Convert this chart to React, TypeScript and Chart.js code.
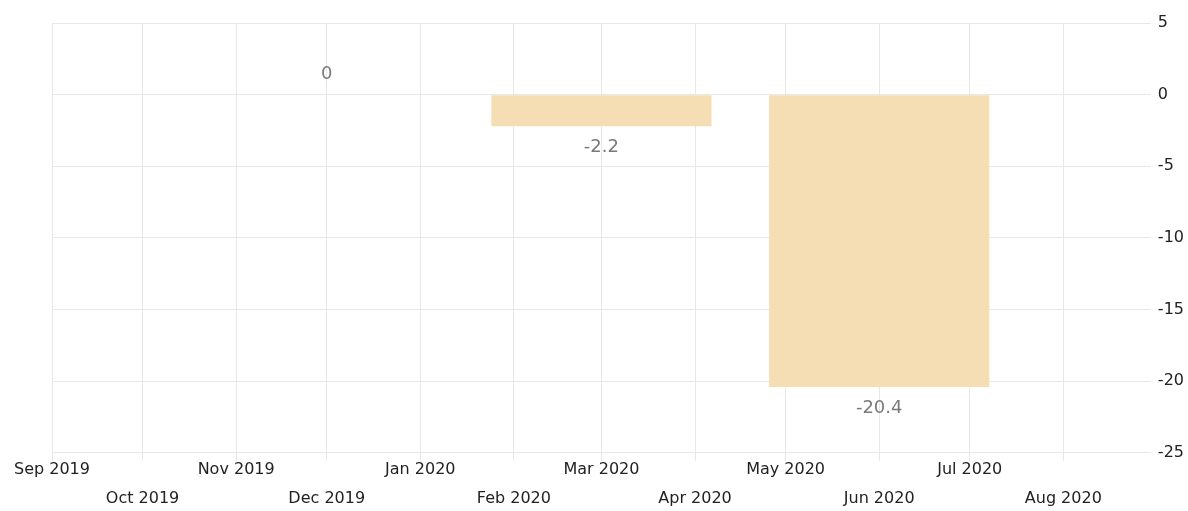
import React, { useEffect, useRef } from "react";
import { Chart, registerables } from "chart.js";

Chart.register(...registerables);

const tickLabels = [
  "Sep 2019", "Oct 2019", "Nov 2019", "Dec 2019", "Jan 2020", "Feb 2020",
  "Mar 2020", "Apr 2020", "May 2020", "Jun 2020", "Jul 2020", "Aug 2020",
];
const barMonths = ["Dec 2019", "Mar 2020", "Jun 2020"];
const barValues = [0, -2.2, -20.4];
const yTicks = [5, 0, -5, -10, -15, -20, -25];
const axisEnd = "Aug 30 2020";

const FONT = "'DejaVu Sans', sans-serif";

const DAY = 86400000;
const origin = Date.parse("1 " + tickLabels[0] + " UTC");
const dayOf = (label: string) =>
  Math.round((Date.parse((label.split(" ").length === 2 ? "1 " : "") + label + " UTC") - origin) / DAY);
const tickDays = tickLabels.map(dayOf);
const endDay = Math.round((Date.parse(axisEnd + " UTC") - origin) / DAY);

const valueLabels = {
  id: "valueLabels",
  afterDatasetsDraw(chart: any) {
    const ctx = chart.ctx;
    const meta = chart.getDatasetMeta(0);
    ctx.save();
    ctx.font = `18px ${FONT}`;
    ctx.fillStyle = "#7a7a7a";
    ctx.textAlign = "center";
    ctx.textBaseline = "middle";
    meta.data.forEach((el: any, i: number) => {
      const v = barValues[i];
      const y = v >= 0 ? el.y - 20 : el.y + 21;
      ctx.fillText(String(v), el.x, y);
    });
    ctx.restore();
  },
};

export default function App() {
  const ref = useRef<HTMLCanvasElement>(null);
  useEffect(() => {
    if (!ref.current) return;
    const chart = new Chart(ref.current, {
      type: "bar",
      data: {
        datasets: [
          {
            data: barMonths.map((m, i) => ({ x: dayOf(m), y: barValues[i] })),
            backgroundColor: "#f5deb3",
            barPercentage: 2.515,
            categoryPercentage: 1,
          },
        ],
      },
      options: {
        animation: false,
        responsive: true,
        maintainAspectRatio: false,
        layout: { padding: { left: 52, right: -3, top: 23, bottom: 0 } },
        plugins: { legend: { display: false }, tooltip: { enabled: false } },
        scales: {
          x: {
            type: "linear",
            min: 0,
            max: endDay,
            offset: false,
            afterBuildTicks: (axis: any) => {
              axis.ticks = tickDays.map((d) => ({ value: d }));
            },
            grid: { color: "#e8e8e8", tickLength: 8, offset: false },
            border: { display: false },
            ticks: {
              autoSkip: false,
              maxRotation: 0,
              padding: -6,
              color: "#222",
              font: { family: FONT, size: 16, lineHeight: 1.85 },
              callback: (value: any, index: number) =>
                index % 2 === 0 ? tickLabels[index] : ["", tickLabels[index]],
            },
          },
          y: {
            position: "right",
            min: -25,
            max: 5,
            afterBuildTicks: (axis: any) => {
              axis.ticks = yTicks.map((v) => ({ value: v }));
            },
            grid: { color: "#e8e8e8", drawTicks: false },
            border: { display: false },
            ticks: {
              padding: 7,
              color: "#222",
              font: { family: FONT, size: 16 },
            },
          },
        },
      },
      plugins: [valueLabels],
    });
    return () => chart.destroy();
  }, []);
  return (
    <div style={{ position: "fixed", left: 0, top: 0, width: 1188, height: 508 }}>
      <canvas ref={ref} />
    </div>
  );
}
